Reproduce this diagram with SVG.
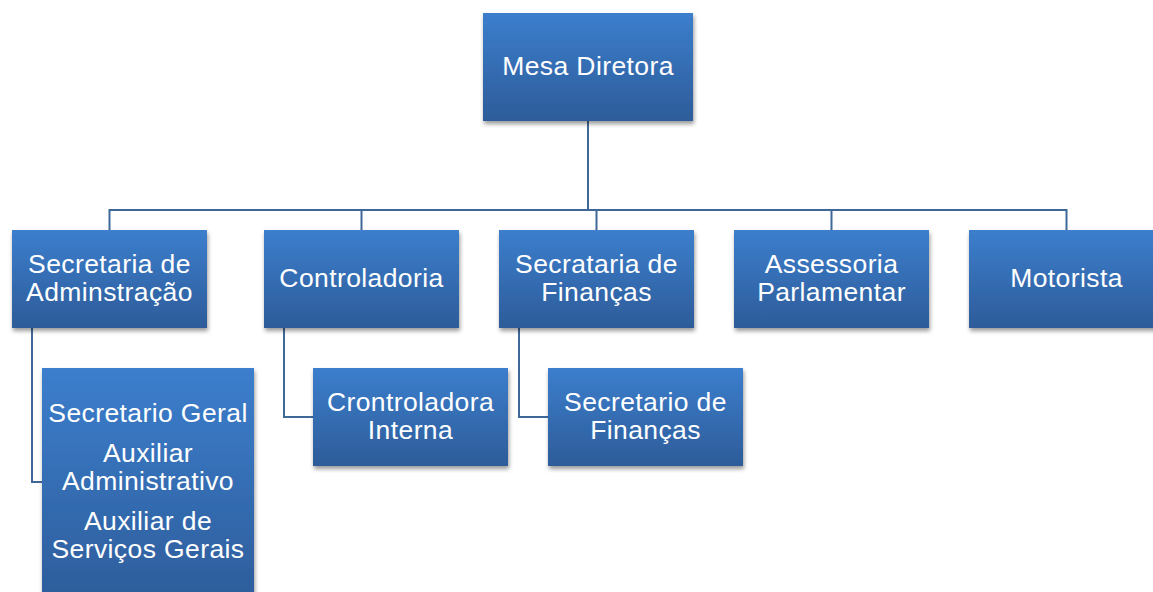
<svg xmlns="http://www.w3.org/2000/svg" width="1153" height="592" viewBox="0 0 1153 592">
<defs>
<linearGradient id="g" x1="0" y1="0" x2="0" y2="1">
<stop offset="0" stop-color="#3C7ECD"/>
<stop offset="1" stop-color="#2D5C99"/>
</linearGradient>
<filter id="sh" x="-10%" y="-10%" width="125%" height="130%">
<feDropShadow dx="1" dy="3" stdDeviation="2.2" flood-color="#000" flood-opacity="0.4"/>
</filter>
</defs>
<style>
.box{fill:url(#g);filter:url(#sh);}
.t{font-family:"Liberation Sans",Arial,sans-serif;font-size:26.5px;letter-spacing:0.4px;fill:#fff;text-anchor:middle;}
.c{fill:none;stroke:#3F6899;stroke-width:2;}
</style>
<rect width="1153" height="592" fill="#fff"/>
<g id="connectors">
<path class="c" d="M588 121 V210 M109.5 230 V210 H1066.5 V230 M361.5 210 V230 M596.5 210 V230 M831.5 210 V230"/>
<path class="c" d="M32 328 V482 H42"/>
<path class="c" d="M284 328 V417 H313"/>
<path class="c" d="M519 328 V417 H548"/>
</g>
<g id="mesa">
<rect class="box" x="483" y="13" width="210" height="108"/>
<text class="t" x="588" y="75">Mesa Diretora</text>
</g>
<g id="sec-adm">
<rect class="box" x="12" y="230" width="195" height="98"/>
<text class="t" x="109.5" y="272.5">Secretaria de</text>
<text class="t" x="109.5" y="301">Adminstração</text>
</g>
<g id="controladoria">
<rect class="box" x="264" y="230" width="195" height="98"/>
<text class="t" x="361.5" y="287">Controladoria</text>
</g>
<g id="sec-fin">
<rect class="box" x="499" y="230" width="195" height="98"/>
<text class="t" x="596.5" y="272.5">Secrataria de</text>
<text class="t" x="596.5" y="301">Finanças</text>
</g>
<g id="assessoria">
<rect class="box" x="734" y="230" width="195" height="98"/>
<text class="t" x="831.5" y="272.5">Assessoria</text>
<text class="t" x="831.5" y="301">Parlamentar</text>
</g>
<g id="motorista">
<rect class="box" x="969" y="230" width="195" height="98"/>
<text class="t" x="1066.5" y="287">Motorista</text>
</g>
<g id="sec-geral">
<rect class="box" x="42" y="368" width="212" height="240"/>
<text class="t" x="148" y="421.5">Secretario Geral</text>
<text class="t" x="148" y="462">Auxiliar</text>
<text class="t" x="148" y="489.5">Administrativo</text>
<text class="t" x="148" y="530">Auxiliar de</text>
<text class="t" x="148" y="558">Serviços Gerais</text>
</g>
<g id="controladora-interna">
<rect class="box" x="313" y="368" width="195" height="98"/>
<text class="t" x="410.5" y="410.5">Crontroladora</text>
<text class="t" x="410.5" y="439">Interna</text>
</g>
<g id="secretario-fin">
<rect class="box" x="548" y="368" width="195" height="98"/>
<text class="t" x="645.5" y="410.5">Secretario de</text>
<text class="t" x="645.5" y="439">Finanças</text>
</g>
</svg>
